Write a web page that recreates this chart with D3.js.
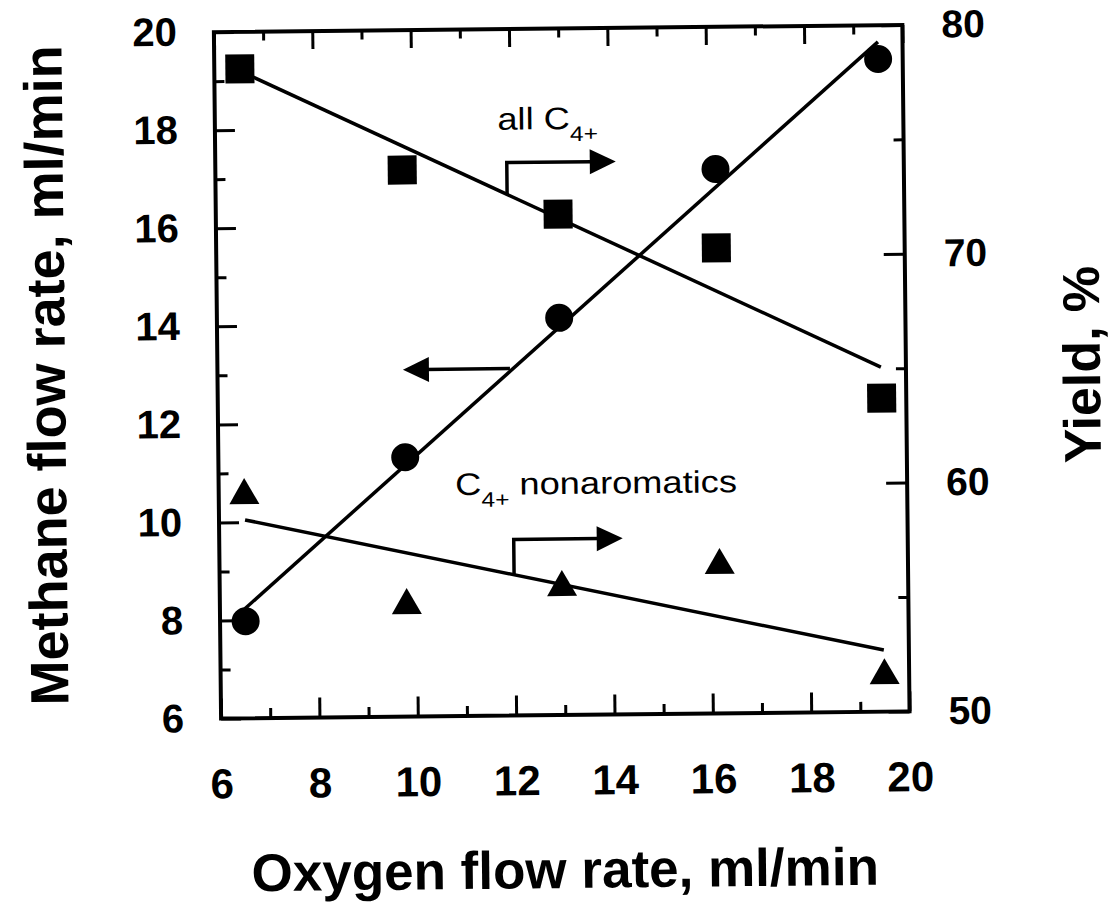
<!DOCTYPE html>
<html>
<head>
<meta charset="utf-8">
<script src="https://cdn.jsdelivr.net/npm/d3@7"></script>
<style>
  body { margin: 0; background: #fff; }
  text { font-family: "Liberation Sans", Arial, sans-serif; fill: #000; }
</style>
</head>
<body>
<script>
var w = 1111, h = 909;

// Data
var oxygen = [6.52, 9.8, 12.96, 16.17, 19.5];          // ml/min
var methane = [7.98, 11.29, 14.10, 17.10, 19.31];      // left axis, ml/min
var yieldAll = [78.38, 73.89, 71.89, 70.34, 63.70];    // right axis, %
var yieldNonArom = [59.93, 55.05, 55.77, 56.66, 51.77];

// straight fit lines (end points)
var methaneFitX = [6.41, 19.5], methaneFitY = [8.15, 19.66];
var allFitX = [6.5, 19.49], allFitY = [78.31, 65.06];
var nonAromFitX = [6.53, 19.49], nonAromFitY = [58.67, 52.69];

// tick values
var xTicks = [6, 8, 10, 12, 14, 16, 18, 20];
var xMinor = [7, 9, 11, 13, 15, 17, 19];
var leftTicks = [6, 8, 10, 12, 14, 16, 18, 20];
var leftMinor = [7, 9, 11, 13, 15, 17, 19];
var rightTicks = [50, 60, 70, 80];
var rightMinor = [55, 65, 75];

// plot box
var plotLeft = 217.5, plotRight = 906, plotTop = 28.5, plotBottom = 715;

var x = d3.scaleLinear().domain([6, 20]).range([plotLeft, plotRight]);
var yL = d3.scaleLinear().domain([6, 20]).range([plotBottom, plotTop]);
var yR = d3.scaleLinear().domain([50, 80]).range([plotBottom, plotTop]);

var svg = d3.select("body").append("svg")
    .attr("width", w)
    .attr("height", h);

// the scanned figure is tilted a little
var g = svg.append("g")
    .attr("transform", "rotate(-0.6, 562, 375)");

function styleAxis(sel, fontSize) {
    sel.select(".domain").remove();
    sel.selectAll(".tick line").attr("stroke", "#000").attr("stroke-width", 3);
    sel.selectAll(".tick text")
        .attr("fill", "#000")
        .style("font-size", fontSize + "px")
        .style("font-weight", "bold")
        .style("font-family", "'Liberation Sans', Arial, sans-serif");
}

// bottom axis
g.append("g")
    .attr("transform", "translate(0," + plotBottom + ")")
    .call(d3.axisBottom(x).tickValues(xTicks).tickSize(-20).tickPadding(50))
    .call(styleAxis, 42);
g.append("g")
    .attr("transform", "translate(0," + plotBottom + ")")
    .call(d3.axisBottom(x).tickValues(xMinor).tickSize(-10).tickFormat(""))
    .call(styleAxis, 10);

// top axis (ticks only)
g.append("g")
    .attr("transform", "translate(0," + plotTop + ")")
    .call(d3.axisTop(x).tickValues(xTicks).tickSize(-18).tickFormat(""))
    .call(styleAxis, 10);
g.append("g")
    .attr("transform", "translate(0," + plotTop + ")")
    .call(d3.axisTop(x).tickValues(xMinor).tickSize(-9).tickFormat(""))
    .call(styleAxis, 10);

// left axis
g.append("g")
    .attr("transform", "translate(" + plotLeft + ",0)")
    .call(d3.axisLeft(yL).tickValues(leftTicks).tickSize(-20).tickPadding(37))
    .call(styleAxis, 40);
g.append("g")
    .attr("transform", "translate(" + plotLeft + ",0)")
    .call(d3.axisLeft(yL).tickValues(leftMinor).tickSize(-10).tickFormat(""))
    .call(styleAxis, 10);

// right axis
g.append("g")
    .attr("transform", "translate(" + plotRight + ",0)")
    .call(d3.axisRight(yR).tickValues(rightTicks).tickSize(-21).tickPadding(39))
    .call(styleAxis, 39);
g.append("g")
    .attr("transform", "translate(" + plotRight + ",0)")
    .call(d3.axisRight(yR).tickValues(rightMinor).tickSize(-10).tickFormat(""))
    .call(styleAxis, 10);

// frame
g.append("rect")
    .attr("x", plotLeft)
    .attr("y", plotTop)
    .attr("width", plotRight - plotLeft)
    .attr("height", plotBottom - plotTop)
    .attr("fill", "none")
    .attr("stroke", "#000")
    .attr("stroke-width", 4);

// fit lines
var fits = [
    { xs: methaneFitX, ys: methaneFitY, sc: yL },
    { xs: allFitX, ys: allFitY, sc: yR },
    { xs: nonAromFitX, ys: nonAromFitY, sc: yR }
];
fits.forEach(function(f) {
    g.append("path")
        .datum(d3.zip(f.xs, f.ys))
        .attr("d", d3.line()
            .x(function(d) { return x(d[0]); })
            .y(function(d) { return f.sc(d[1]); }))
        .attr("fill", "none")
        .attr("stroke", "#000")
        .attr("stroke-width", 3.5);
});

// markers
g.selectAll("circle.methane")
    .data(d3.zip(oxygen, methane))
    .join("circle")
    .attr("class", "methane")
    .attr("cx", function(d) { return x(d[0]); })
    .attr("cy", function(d) { return yL(d[1]); })
    .attr("r", 14)
    .attr("fill", "#000");

g.selectAll("rect.all")
    .data(d3.zip(oxygen, yieldAll))
    .join("rect")
    .attr("class", "all")
    .attr("x", function(d) { return x(d[0]) - 14.5; })
    .attr("y", function(d) { return yR(d[1]) - 14.5; })
    .attr("width", 29)
    .attr("height", 29)
    .attr("fill", "#000");

g.selectAll("path.nonarom")
    .data(d3.zip(oxygen, yieldNonArom))
    .join("path")
    .attr("class", "nonarom")
    .attr("d", function(d) {
        var cx = x(d[0]), cy = yR(d[1]);
        return "M" + (cx - 15) + "," + (cy + 13) + "L" + cx + "," + (cy - 13) +
            "L" + (cx + 15) + "," + (cy + 13) + "Z";
    })
    .attr("fill", "#000");

// annotations with arrows
function arrowHead(tipX, tipY, dir) {
    var bx = tipX - dir * 26;
    g.append("path")
        .attr("d", "M" + tipX + "," + tipY + "L" + bx + "," + (tipY - 12.5) +
            "L" + bx + "," + (tipY + 12.5) + "Z")
        .attr("fill", "#000");
}
function bentArrow(x0, y0, y1, tipX) {
    g.append("path")
        .attr("d", "M" + x0 + "," + y0 + "V" + y1 + "H" + (tipX - 24))
        .attr("fill", "none")
        .attr("stroke", "#000")
        .attr("stroke-width", 3.5);
    arrowHead(tipX, y1, 1);
}

// the scan stretches the label text sideways a bit
var lab1 = g.append("text")
    .attr("transform", "translate(500,129) scale(1.17,1)")
    .style("font-size", "31px");
lab1.append("tspan").text("all C");
lab1.append("tspan").attr("dy", 12).style("font-size", "21px").text("4+");
bentArrow(509, 194, 162, 618);

// methane arrow pointing left
g.append("path")
    .attr("d", "M510,368H425")
    .attr("fill", "none")
    .attr("stroke", "#000")
    .attr("stroke-width", 3.5);
arrowHead(403, 368, -1);

var lab2 = g.append("text")
    .attr("transform", "translate(454,494) scale(1.17,1)")
    .style("font-size", "31px");
lab2.append("tspan").text("C");
lab2.append("tspan").attr("dy", 12).style("font-size", "21px").text("4+");
lab2.append("tspan").attr("dy", -12).text(" nonaromatics");
bentArrow(512, 574, 539, 621);

// axis titles
g.append("text")
    .attr("x", 560)
    .attr("y", 888)
    .attr("text-anchor", "middle")
    .style("font-size", "53px")
    .style("font-weight", "bold")
    .text("Oxygen flow rate, ml/min");

g.append("text")
    .attr("transform", "translate(65,370) rotate(-90)")
    .attr("text-anchor", "middle")
    .style("font-size", "54px")
    .style("font-weight", "bold")
    .text("Methane flow rate, ml/min");

g.append("text")
    .attr("transform", "translate(1100,370) rotate(-90)")
    .attr("text-anchor", "middle")
    .style("font-size", "52px")
    .style("font-weight", "bold")
    .text("Yield, %");
</script>
</body>
</html>
